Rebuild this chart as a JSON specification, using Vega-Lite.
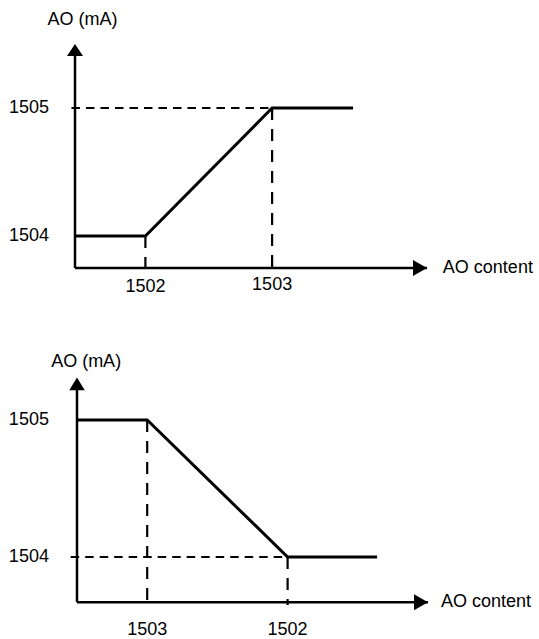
{
  "$schema": "https://vega.github.io/schema/vega-lite/v6.json",
  "padding": 0,
  "autosize": {"type": "pad"},
  "background": "white",
  "spacing": 0,
  "config": {
    "view": {"stroke": null},
    "text": {"font": "Liberation Sans", "fontSize": 18, "color": "black", "baseline": "middle"}
  },
  "datasets": {
    "top_curve": [{"c": 0, "ma": 1504}, {"c": 2, "ma": 1504}, {"c": 5.6, "ma": 1505}, {"c": 7.9, "ma": 1505}],
    "top_hguide": [{"c": -0.1, "c2": 5.6, "ma": 1505}],
    "top_vguide": [{"c": 2, "ma": 1503.73, "ma2": 1504}, {"c": 5.6, "ma": 1503.73, "ma2": 1505}],
    "top_axes": [{"c": 0, "c2": 10, "ma": 1503.75, "ma2": 1503.75}, {"c": 0, "c2": 0, "ma": 1503.75, "ma2": 1505.45}],
    "top_arrow_right": [{"c": 10, "ma": 1503.75}],
    "top_arrow_up": [{"c": 0, "ma": 1505.5}],
    "top_lab_right": [{"c": -0.74, "ma": 1505, "t": "1505"}, {"c": -0.74, "ma": 1504, "t": "1504"}],
    "top_lab_center": [{"c": 2, "ma": 1503.6, "t": "1502"}, {"c": 5.6, "ma": 1503.62, "t": "1503"}, {"c": 0.21, "ma": 1505.6875, "t": "AO (mA)"}],
    "top_lab_left": [{"c": 10.45, "ma": 1503.75, "t": "AO content"}],
    "bot_curve": [{"c": 0, "ma": 1505}, {"c": 2, "ma": 1505}, {"c": 6, "ma": 1504}, {"c": 8.55, "ma": 1504}],
    "bot_hguide": [{"c": -0.18, "c2": 6, "ma": 1504}],
    "bot_vguide": [{"c": 2, "ma": 1503.635, "ma2": 1505}, {"c": 6, "ma": 1503.65, "ma2": 1504}],
    "bot_axes": [{"c": 0, "c2": 10, "ma": 1503.67, "ma2": 1503.67}, {"c": 0, "c2": 0, "ma": 1503.67, "ma2": 1505.25}],
    "bot_arrow_right": [{"c": 10, "ma": 1503.67}],
    "bot_arrow_up": [{"c": 0, "ma": 1505.31}],
    "bot_lab_right": [{"c": -0.8, "ma": 1505, "t": "1505"}, {"c": -0.8, "ma": 1504, "t": "1504"}],
    "bot_lab_center": [{"c": 2, "ma": 1503.47, "t": "1503"}, {"c": 6, "ma": 1503.47, "t": "1502"}, {"c": 0.26, "ma": 1505.42, "t": "AO (mA)"}],
    "bot_lab_left": [{"c": 10.37, "ma": 1503.67, "t": "AO content"}]
  },
  "vconcat": [
    {
      "width": 539,
      "height": 320,
      "layer": [
        {
          "data": {"name": "top_hguide"},
          "mark": {"type": "rule", "color": "black", "strokeWidth": 2.2, "strokeDash": [8.5, 6]},
          "encoding": {
            "x": {"field": "c", "type": "quantitative", "scale": {"domain": [-2.13068, 13.18182], "nice": false, "zero": false}, "axis": null},
            "x2": {"field": "c2"},
            "y": {"field": "ma", "type": "quantitative", "scale": {"domain": [1503.34375, 1505.84375], "nice": false, "zero": false}, "axis": null}
          }
        },
        {
          "data": {"name": "top_vguide"},
          "mark": {"type": "rule", "color": "black", "strokeWidth": 2.2, "strokeDash": [12, 9]},
          "encoding": {
            "x": {"field": "c", "type": "quantitative", "scale": {"domain": [-2.13068, 13.18182], "nice": false, "zero": false}, "axis": null},
            "y": {"field": "ma2", "type": "quantitative", "scale": {"domain": [1503.34375, 1505.84375], "nice": false, "zero": false}, "axis": null},
            "y2": {"field": "ma"}
          }
        },
        {
          "data": {"name": "top_axes"},
          "mark": {"type": "rule", "color": "black", "strokeWidth": 2.5},
          "encoding": {
            "x": {"field": "c", "type": "quantitative", "scale": {"domain": [-2.13068, 13.18182], "nice": false, "zero": false}, "axis": null},
            "x2": {"field": "c2"},
            "y": {"field": "ma", "type": "quantitative", "scale": {"domain": [1503.34375, 1505.84375], "nice": false, "zero": false}, "axis": null},
            "y2": {"field": "ma2"}
          }
        },
        {
          "data": {"name": "top_curve"},
          "mark": {"type": "line", "color": "black", "strokeWidth": 3},
          "encoding": {
            "x": {"field": "c", "type": "quantitative", "scale": {"domain": [-2.13068, 13.18182], "nice": false, "zero": false}, "axis": null},
            "y": {"field": "ma", "type": "quantitative", "scale": {"domain": [1503.34375, 1505.84375], "nice": false, "zero": false}, "axis": null}
          }
        },
        {
          "data": {"name": "top_arrow_right"},
          "mark": {"type": "point", "filled": true, "color": "black", "opacity": 1, "size": 256, "shape": "M0,0L-1.75,-1L-1.75,1Z"},
          "encoding": {
            "x": {"field": "c", "type": "quantitative", "scale": {"domain": [-2.13068, 13.18182], "nice": false, "zero": false}, "axis": null},
            "y": {"field": "ma", "type": "quantitative", "scale": {"domain": [1503.34375, 1505.84375], "nice": false, "zero": false}, "axis": null}
          }
        },
        {
          "data": {"name": "top_arrow_up"},
          "mark": {"type": "point", "filled": true, "color": "black", "opacity": 1, "size": 256, "shape": "M0,0L1,1.5L-1,1.5Z"},
          "encoding": {
            "x": {"field": "c", "type": "quantitative", "scale": {"domain": [-2.13068, 13.18182], "nice": false, "zero": false}, "axis": null},
            "y": {"field": "ma", "type": "quantitative", "scale": {"domain": [1503.34375, 1505.84375], "nice": false, "zero": false}, "axis": null}
          }
        },
        {
          "data": {"name": "top_lab_right"},
          "mark": {"type": "text", "align": "right"},
          "encoding": {
            "x": {"field": "c", "type": "quantitative", "scale": {"domain": [-2.13068, 13.18182], "nice": false, "zero": false}, "axis": null},
            "y": {"field": "ma", "type": "quantitative", "scale": {"domain": [1503.34375, 1505.84375], "nice": false, "zero": false}, "axis": null},
            "text": {"field": "t"}
          }
        },
        {
          "data": {"name": "top_lab_center"},
          "mark": {"type": "text", "align": "center"},
          "encoding": {
            "x": {"field": "c", "type": "quantitative", "scale": {"domain": [-2.13068, 13.18182], "nice": false, "zero": false}, "axis": null},
            "y": {"field": "ma", "type": "quantitative", "scale": {"domain": [1503.34375, 1505.84375], "nice": false, "zero": false}, "axis": null},
            "text": {"field": "t"}
          }
        },
        {
          "data": {"name": "top_lab_left"},
          "mark": {"type": "text", "align": "left"},
          "encoding": {
            "x": {"field": "c", "type": "quantitative", "scale": {"domain": [-2.13068, 13.18182], "nice": false, "zero": false}, "axis": null},
            "y": {"field": "ma", "type": "quantitative", "scale": {"domain": [1503.34375, 1505.84375], "nice": false, "zero": false}, "axis": null},
            "text": {"field": "t"}
          }
        }
      ]
    },
    {
      "width": 539,
      "height": 319,
      "layer": [
        {
          "data": {"name": "bot_hguide"},
          "mark": {"type": "rule", "color": "black", "strokeWidth": 2.2, "strokeDash": [8.5, 6]},
          "encoding": {
            "x": {"field": "c", "type": "quantitative", "scale": {"domain": [-2.19373, 13.16239], "nice": false, "zero": false}, "axis": null},
            "x2": {"field": "c2"},
            "y": {"field": "ma", "type": "quantitative", "scale": {"domain": [1503.40146, 1505.72993], "nice": false, "zero": false}, "axis": null}
          }
        },
        {
          "data": {"name": "bot_vguide"},
          "mark": {"type": "rule", "color": "black", "strokeWidth": 2.2, "strokeDash": [12, 9]},
          "encoding": {
            "x": {"field": "c", "type": "quantitative", "scale": {"domain": [-2.19373, 13.16239], "nice": false, "zero": false}, "axis": null},
            "y": {"field": "ma2", "type": "quantitative", "scale": {"domain": [1503.40146, 1505.72993], "nice": false, "zero": false}, "axis": null},
            "y2": {"field": "ma"}
          }
        },
        {
          "data": {"name": "bot_axes"},
          "mark": {"type": "rule", "color": "black", "strokeWidth": 2.5},
          "encoding": {
            "x": {"field": "c", "type": "quantitative", "scale": {"domain": [-2.19373, 13.16239], "nice": false, "zero": false}, "axis": null},
            "x2": {"field": "c2"},
            "y": {"field": "ma", "type": "quantitative", "scale": {"domain": [1503.40146, 1505.72993], "nice": false, "zero": false}, "axis": null},
            "y2": {"field": "ma2"}
          }
        },
        {
          "data": {"name": "bot_curve"},
          "mark": {"type": "line", "color": "black", "strokeWidth": 3},
          "encoding": {
            "x": {"field": "c", "type": "quantitative", "scale": {"domain": [-2.19373, 13.16239], "nice": false, "zero": false}, "axis": null},
            "y": {"field": "ma", "type": "quantitative", "scale": {"domain": [1503.40146, 1505.72993], "nice": false, "zero": false}, "axis": null}
          }
        },
        {
          "data": {"name": "bot_arrow_right"},
          "mark": {"type": "point", "filled": true, "color": "black", "opacity": 1, "size": 256, "shape": "M0,0L-1.75,-1L-1.75,1Z"},
          "encoding": {
            "x": {"field": "c", "type": "quantitative", "scale": {"domain": [-2.19373, 13.16239], "nice": false, "zero": false}, "axis": null},
            "y": {"field": "ma", "type": "quantitative", "scale": {"domain": [1503.40146, 1505.72993], "nice": false, "zero": false}, "axis": null}
          }
        },
        {
          "data": {"name": "bot_arrow_up"},
          "mark": {"type": "point", "filled": true, "color": "black", "opacity": 1, "size": 240, "shape": "M0,0L1,1.65L-1,1.65Z"},
          "encoding": {
            "x": {"field": "c", "type": "quantitative", "scale": {"domain": [-2.19373, 13.16239], "nice": false, "zero": false}, "axis": null},
            "y": {"field": "ma", "type": "quantitative", "scale": {"domain": [1503.40146, 1505.72993], "nice": false, "zero": false}, "axis": null}
          }
        },
        {
          "data": {"name": "bot_lab_right"},
          "mark": {"type": "text", "align": "right"},
          "encoding": {
            "x": {"field": "c", "type": "quantitative", "scale": {"domain": [-2.19373, 13.16239], "nice": false, "zero": false}, "axis": null},
            "y": {"field": "ma", "type": "quantitative", "scale": {"domain": [1503.40146, 1505.72993], "nice": false, "zero": false}, "axis": null},
            "text": {"field": "t"}
          }
        },
        {
          "data": {"name": "bot_lab_center"},
          "mark": {"type": "text", "align": "center"},
          "encoding": {
            "x": {"field": "c", "type": "quantitative", "scale": {"domain": [-2.19373, 13.16239], "nice": false, "zero": false}, "axis": null},
            "y": {"field": "ma", "type": "quantitative", "scale": {"domain": [1503.40146, 1505.72993], "nice": false, "zero": false}, "axis": null},
            "text": {"field": "t"}
          }
        },
        {
          "data": {"name": "bot_lab_left"},
          "mark": {"type": "text", "align": "left"},
          "encoding": {
            "x": {"field": "c", "type": "quantitative", "scale": {"domain": [-2.19373, 13.16239], "nice": false, "zero": false}, "axis": null},
            "y": {"field": "ma", "type": "quantitative", "scale": {"domain": [1503.40146, 1505.72993], "nice": false, "zero": false}, "axis": null},
            "text": {"field": "t"}
          }
        }
      ]
    }
  ]
}
